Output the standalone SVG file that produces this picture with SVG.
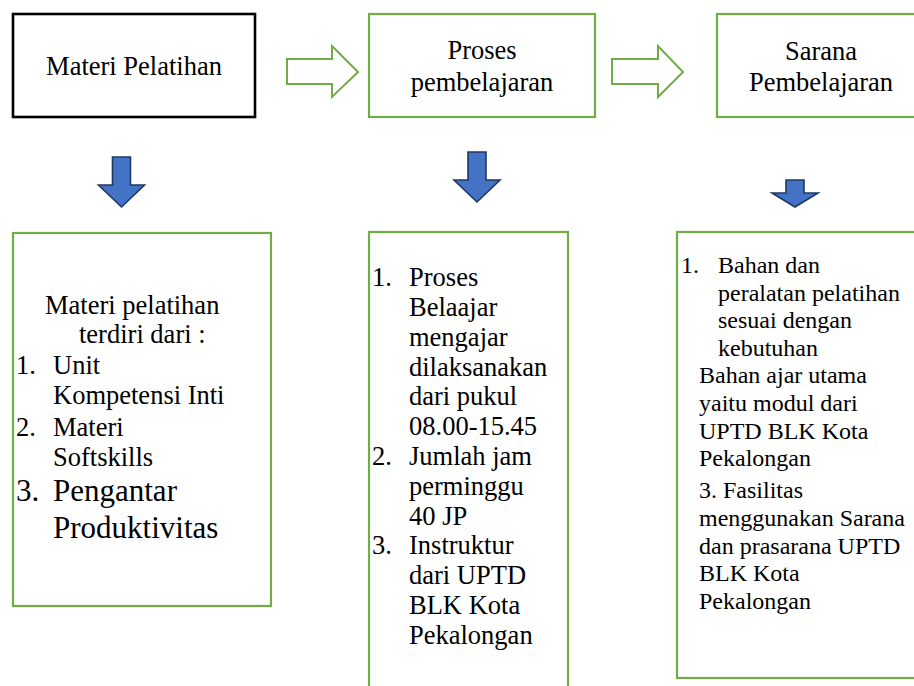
<svg xmlns="http://www.w3.org/2000/svg" width="914" height="686" viewBox="0 0 914 686">
  <style>
    text { font-family: 'Liberation Serif', 'DejaVu Serif', serif; fill: #000; }
    .t { font-size: 26.5px; }
    .s { font-size: 24px; }
    .b { font-size: 31px; }
    .mid { text-anchor: middle; }
    .box { fill: #fff; stroke: #70AD47; stroke-width: 2.2; }
    .boxk { fill: #fff; stroke: #000; stroke-width: 2.6; }
    .hollow { fill: #fff; stroke: #70AD47; stroke-width: 2; stroke-linejoin: miter; }
    .down { fill: #4472C4; stroke: #203864; stroke-width: 1.6; stroke-linejoin: miter; }
  </style>
  <rect width="914" height="686" fill="#fff"/>

  <!-- connectors: hollow right arrows and filled down arrows -->
  <g id="connectors">
    <polygon class="hollow" points="287,59 332,59 332,46 358,72 332,97 332,84 287,84"/>
    <polygon class="hollow" points="612,59 658,59 658,46 683,72 658,97 658,84 612,84"/>
    <polygon class="down" points="112.5,157 130.5,157 130.5,185 144.5,185 121.5,207 98.5,185 112.5,185"/>
    <polygon class="down" points="468,152 486,152 486,180 500,180 477,202 454,180 468,180"/>
    <polygon class="down" points="786,180 804,180 804,193 818,193 795,207 772,193 786,193"/>
  </g>

  <g font-family="Liberation Serif, DejaVu Serif, serif">
  <!-- top row -->
  <g id="materi-pelatihan">
    <rect class="boxk" x="13" y="14" width="242" height="103"/>
    <text class="t mid" x="134" y="75">Materi Pelatihan</text>
  </g>
  <g id="proses-pembelajaran">
    <rect class="box" x="369" y="14" width="226" height="103"/>
    <text class="t mid" x="482" y="59">Proses</text>
    <text class="t mid" x="482" y="91">pembelajaran</text>
  </g>
  <g id="sarana-pembelajaran">
    <rect class="box" x="717" y="14" width="210" height="103"/>
    <text class="t mid" x="821" y="60">Sarana</text>
    <text class="t mid" x="821" y="91">Pembelajaran</text>
  </g>

  <!-- detail boxes -->
  <g id="detail-materi">
    <rect class="box" x="13" y="233" width="258" height="373"/>
    <text class="t" x="45" y="314">Materi pelatihan</text>
    <text class="t" x="79" y="343">terdiri dari :</text>
    <text class="t" x="16" y="374">1.</text>
    <text class="t" x="53" y="374">Unit</text>
    <text class="t" x="53" y="404">Kompetensi Inti</text>
    <text class="t" x="16" y="436">2.</text>
    <text class="t" x="53" y="436">Materi</text>
    <text class="t" x="53" y="466">Softskills</text>
    <text class="b" x="16" y="501">3.</text>
    <text class="b" x="53" y="501">Pengantar</text>
    <text class="b" x="53" y="538">Produktivitas</text>
  </g>

  <g id="detail-proses">
    <rect class="box" x="369" y="232" width="199" height="470"/>
    <text class="t" x="372" y="286">1.</text>
    <text class="t" x="409" y="286">Proses</text>
    <text class="t" x="409" y="316">Belaajar</text>
    <text class="t" x="409" y="346">mengajar</text>
    <text class="t" x="409" y="375.5">dilaksanakan</text>
    <text class="t" x="409" y="405">dari pukul</text>
    <text class="t" x="409" y="435">08.00-15.45</text>
    <text class="t" x="372" y="465">2.</text>
    <text class="t" x="409" y="465">Jumlah jam</text>
    <text class="t" x="409" y="494.5">perminggu</text>
    <text class="t" x="409" y="524.5">40 JP</text>
    <text class="t" x="372" y="554">3.</text>
    <text class="t" x="409" y="554">Instruktur</text>
    <text class="t" x="409" y="584">dari UPTD</text>
    <text class="t" x="409" y="614">BLK Kota</text>
    <text class="t" x="409" y="643.5">Pekalongan</text>
  </g>

  <g id="detail-sarana">
    <rect class="box" x="677" y="232" width="250" height="446"/>
    <text class="s" x="681" y="273">1.</text>
    <text class="s" x="718" y="273">Bahan dan</text>
    <text class="s" x="718" y="300.6">peralatan pelatihan</text>
    <text class="s" x="718" y="328.2">sesuai dengan</text>
    <text class="s" x="718" y="355.8">kebutuhan</text>
    <text class="s" x="699" y="383.4">Bahan ajar utama</text>
    <text class="s" x="699" y="411">yaitu modul dari</text>
    <text class="s" x="699" y="438.6">UPTD BLK Kota</text>
    <text class="s" x="699" y="466.2">Pekalongan</text>
    <text class="s" x="699" y="498.3">3. Fasilitas</text>
    <text class="s" x="699" y="526">menggunakan Sarana</text>
    <text class="s" x="699" y="553.5">dan prasarana UPTD</text>
    <text class="s" x="699" y="581">BLK Kota</text>
    <text class="s" x="699" y="608.5">Pekalongan</text>
  </g>
  </g>
</svg>
